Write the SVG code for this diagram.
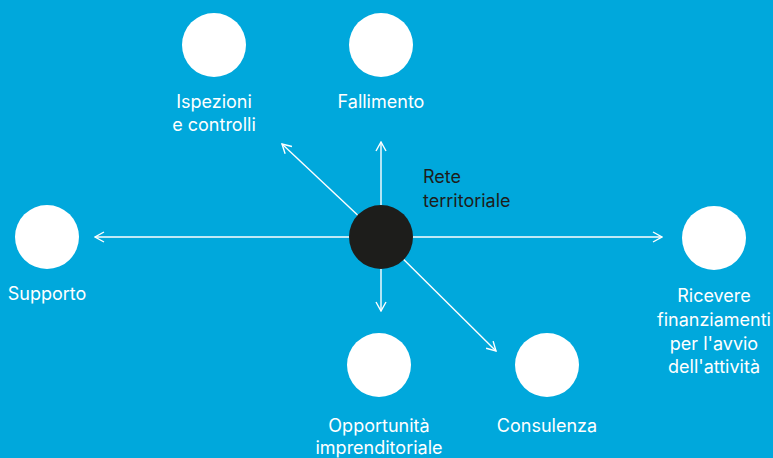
<svg xmlns="http://www.w3.org/2000/svg" width="773" height="458" viewBox="0 0 773 458">
<defs>
<marker id="ah" viewBox="0 0 12 12" refX="11" refY="6" markerWidth="12" markerHeight="12" markerUnits="userSpaceOnUse" orient="auto">
<path d="M2,1 L11,6 L2,11" fill="none" stroke="#fff" stroke-width="1.4"/>
</marker>
<style>
.n{fill:#fff}
.lbl{font-family:Inter,"Liberation Sans",Arial,sans-serif;font-size:18px;fill:#fff;text-anchor:middle}
.c{stroke:#fff;stroke-width:1.4;fill:none;marker-end:url(#ah)}
</style>
</defs>
<rect width="773" height="458" fill="#00A8DC"/>
<g id="connectors">
<line class="c" x1="381" y1="237" x2="95" y2="237"/>
<line class="c" x1="381" y1="237" x2="662" y2="237"/>
<line class="c" x1="381" y1="237" x2="381" y2="142"/>
<line class="c" x1="381" y1="237" x2="381" y2="311"/>
<line class="c" x1="381" y1="237" x2="282" y2="144"/>
<line class="c" x1="381" y1="237" x2="496" y2="351"/>
</g>
<g id="center">
<circle cx="381" cy="237" r="32" fill="#1d1d1b"/>
<text font-family="Inter,Liberation Sans,Arial,sans-serif" font-size="18" fill="#1d1d1b"><tspan x="423" y="183">Rete</tspan><tspan x="423" y="207">territoriale</tspan></text>
</g>
<g id="ispezioni">
<circle class="n" cx="214" cy="45" r="32"/>
<text class="lbl"><tspan x="214" y="108">Ispezioni</tspan><tspan x="214" y="131">e controlli</tspan></text>
</g>
<g id="fallimento">
<circle class="n" cx="381" cy="45" r="32"/>
<text class="lbl" x="381" y="108">Fallimento</text>
</g>
<g id="supporto">
<circle class="n" cx="47" cy="237" r="32"/>
<text class="lbl" x="47" y="300">Supporto</text>
</g>
<g id="ricevere">
<circle class="n" cx="714" cy="238" r="32"/>
<text class="lbl"><tspan x="714" y="302">Ricevere</tspan><tspan x="714" y="326">finanziamenti</tspan><tspan x="714" y="350">per l'avvio</tspan><tspan x="714" y="373">dell'attività</tspan></text>
</g>
<g id="opportunita">
<circle class="n" cx="379" cy="365" r="32"/>
<text class="lbl"><tspan x="379" y="432">Opportunità</tspan><tspan x="379" y="454">imprenditoriale</tspan></text>
</g>
<g id="consulenza">
<circle class="n" cx="547" cy="365" r="32"/>
<text class="lbl" x="547" y="432">Consulenza</text>
</g>
</svg>
